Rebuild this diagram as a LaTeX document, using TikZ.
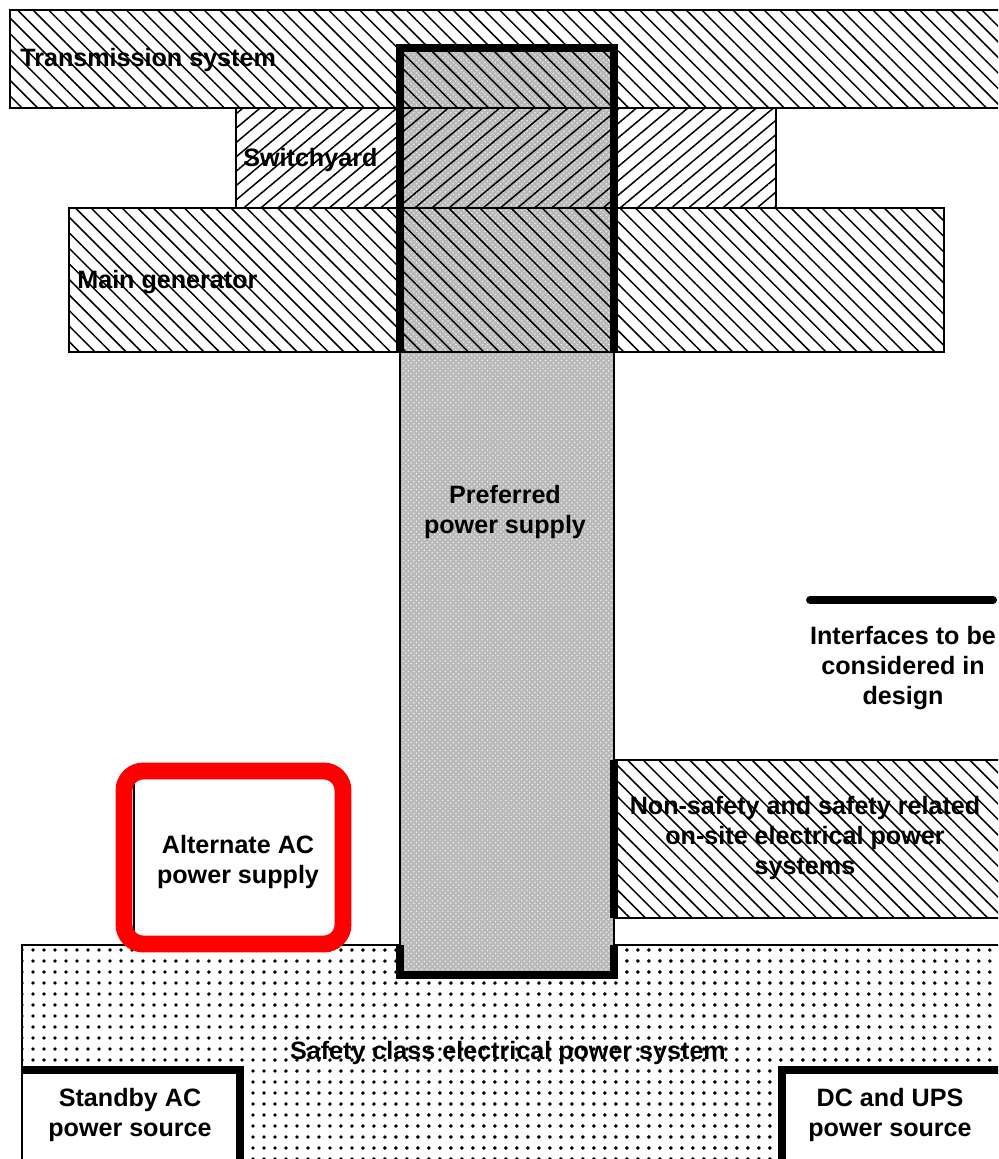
\documentclass[tikz,border=0pt]{standalone}
\usepackage{fontspec}
\setmainfont{Liberation Sans}
\usetikzlibrary{patterns, patterns.meta}
\definecolor{altred}{RGB}{255,0,0}

\begin{document}
\begin{tikzpicture}[x=0.02cm, y=-0.02cm,
  every node/.style={font=\bfseries\fontsize{14.3}{17}\selectfont, align=center, inner sep=0pt},
  thin box/.style={draw=black, line width=0.8pt},
  iface/.style={line width=4.5pt, line cap=butt, line join=miter},
  back hatch/.style={pattern={Lines[angle=-45,distance=0.22cm,line width=0.85pt]}},
  fwd hatch/.style={pattern={Lines[angle=40,distance=0.22cm,line width=0.85pt]}},
  dot fill/.style={pattern={Dots[radius=1.1pt,distance=0.22cm]}},
  checker/.style={preaction={fill=gray!55}, pattern=crosshatch dots, pattern color=white!85!gray}]
\useasboundingbox (0,0) rectangle (998,1159);
\clip (0,0) rectangle (998,1159);

% Safety class system with its two sources
\draw[thin box, dot fill] (22,945) rectangle (1010,1170);
\draw[thin box, fill=white] (22,1070) rectangle (240,1170);
\draw[thin box, fill=white] (782,1070) rectangle (1010,1170);
\draw[iface] (22,1070) -- (240,1070) -- (240,1170);
\draw[iface] (1010,1070) -- (782,1070) -- (782,1170);
\node (safety) at (508,1053) {Safety class electrical power system};
\node (standby) at (130,1115) {Standby AC\\power source};
\node (dcups) at (890,1115) {DC and UPS\\power source};

% Preferred power supply column
\draw[thin box, checker] (400,48) rectangle (614,975);

% Off-site rows (hatch runs over the column)
\draw[thin box, back hatch] (10,10) rectangle (1010,108);
\draw[thin box, fwd hatch] (236,108) rectangle (776,208);
\draw[thin box, back hatch] (69,208) rectangle (944,352);
\node[anchor=west] (trans) at (20,60) {Transmission system};
\node[anchor=west] (swyd) at (243,160) {Switchyard};
\node[anchor=west] (maingen) at (77,282) {Main generator};
\node (pref) at (505,512) {Preferred\\power supply};

% On-site systems
\draw[thin box, back hatch] (614,760) rectangle (1010,918);
\node (onsite) at (805,838) {Non-safety and safety related\\on-site electrical power\\systems};

% Interfaces
\draw[iface] (400,352) -- (400,48) -- (614,48) -- (614,352);
\draw[iface] (614,760) -- (614,918);
\draw[iface] (400,945) -- (400,975) -- (614,975) -- (614,945);

% Alternate AC box
\draw[thin box, fill=white] (134,774) rectangle (336,944);
\draw[altred, line width=9.6pt, rounded corners=11pt] (124,771) rectangle (343,944);
\node (alt) at (238,862) {Alternate AC\\power supply};

% Legend
\coordinate (ifL) at (810,600);
\coordinate (ifR) at (993,600);
\draw[line width=4.5pt, line cap=round] (ifL) -- (ifR);
\node (iflbl) at (903,668) {Interfaces to be\\considered in\\design};
\end{tikzpicture}
\end{document}
